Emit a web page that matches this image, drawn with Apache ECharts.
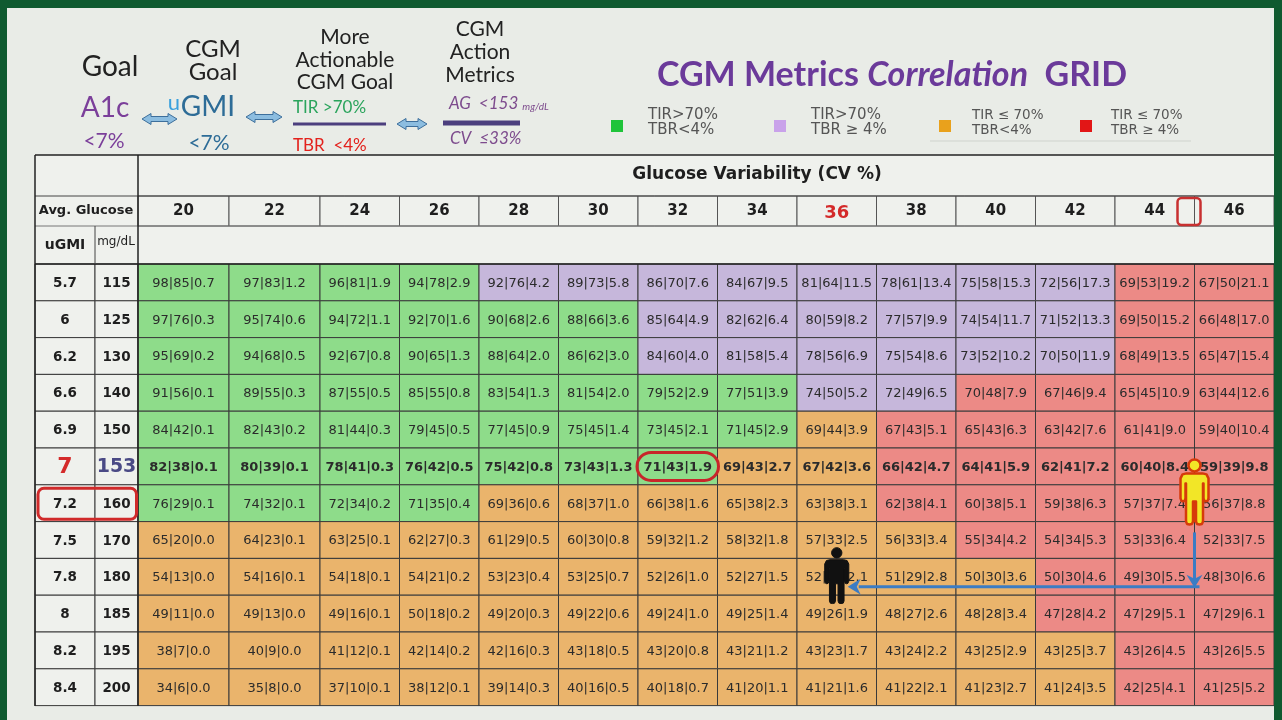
<!DOCTYPE html>
<html><head><meta charset="utf-8">
<script src="https://cdn.jsdelivr.net/npm/echarts@6/dist/echarts.min.js"></script>
<style>html,body{margin:0;padding:0;}#c{width:1282px;height:720px;}</style>
</head><body><div id="c"></div>
<script>
// ---------------- DATA ----------------
const cvValues = ['20','22','24','26','28','30','32','34','36','38','40','42','44','46'];
const ugmiLabels = ['5.7','6','6.2','6.6','6.9','7','7.2','7.5','7.8','8','8.2','8.4'];
const mgdlLabels = [115,125,130,140,150,153,160,170,180,185,195,200];
const tir = [
 [98,97,96,94,92,89,86,84,81,78,75,72,69,67],
 [97,95,94,92,90,88,85,82,80,77,74,71,69,66],
 [95,94,92,90,88,86,84,81,78,75,73,70,68,65],
 [91,89,87,85,83,81,79,77,74,72,70,67,65,63],
 [84,82,81,79,77,75,73,71,69,67,65,63,61,59],
 [82,80,78,76,75,73,71,69,67,66,64,62,60,59],
 [76,74,72,71,69,68,66,65,63,62,60,59,57,56],
 [65,64,63,62,61,60,59,58,57,56,55,54,53,52],
 [54,54,54,54,53,53,52,52,52,51,50,50,49,48],
 [49,49,49,50,49,49,49,49,49,48,48,47,47,47],
 [38,40,41,42,42,43,43,43,43,43,43,43,43,43],
 [34,35,37,38,39,40,40,41,41,41,41,41,42,41]
];
const titr = [
 [85,83,81,78,76,73,70,67,64,61,58,56,53,50],
 [76,74,72,70,68,66,64,62,59,57,54,52,50,48],
 [69,68,67,65,64,62,60,58,56,54,52,50,49,47],
 [56,55,55,55,54,54,52,51,50,49,48,46,45,44],
 [42,43,44,45,45,45,45,45,44,43,43,42,41,40],
 [38,39,41,42,42,43,43,43,42,42,41,41,40,39],
 [29,32,34,35,36,37,38,38,38,38,38,38,37,37],
 [20,23,25,27,29,30,32,32,33,33,34,34,33,33],
 [13,16,18,21,23,25,26,27,28,29,30,30,30,30],
 [11,13,16,18,20,22,24,25,26,27,28,28,29,29],
 [7,9,12,14,16,18,20,21,23,24,25,25,26,26],
 [6,8,10,12,14,16,18,20,21,22,23,24,25,25]
];
const tbr = [
 [0.7,1.2,1.9,2.9,4.2,5.8,7.6,9.5,11.5,13.4,15.3,17.3,19.2,21.1],
 [0.3,0.6,1.1,1.6,2.6,3.6,4.9,6.4,8.2,9.9,11.7,13.3,15.2,17.0],
 [0.2,0.5,0.8,1.3,2.0,3.0,4.0,5.4,6.9,8.6,10.2,11.9,13.5,15.4],
 [0.1,0.3,0.5,0.8,1.3,2.0,2.9,3.9,5.2,6.5,7.9,9.4,10.9,12.6],
 [0.1,0.2,0.3,0.5,0.9,1.4,2.1,2.9,3.9,5.1,6.3,7.6,9.0,10.4],
 [0.1,0.1,0.3,0.5,0.8,1.3,1.9,2.7,3.6,4.7,5.9,7.2,8.4,9.8],
 [0.1,0.1,0.2,0.4,0.6,1.0,1.6,2.3,3.1,4.1,5.1,6.3,7.4,8.8],
 [0.0,0.1,0.1,0.3,0.5,0.8,1.2,1.8,2.5,3.4,4.2,5.3,6.4,7.5],
 [0.0,0.1,0.1,0.2,0.4,0.7,1.0,1.5,2.1,2.8,3.6,4.6,5.5,6.6],
 [0.0,0.0,0.1,0.2,0.3,0.6,1.0,1.4,1.9,2.6,3.4,4.2,5.1,6.1],
 [0.0,0.0,0.1,0.2,0.3,0.5,0.8,1.2,1.7,2.2,2.9,3.7,4.5,5.5],
 [0.0,0.0,0.1,0.1,0.3,0.5,0.7,1.1,1.6,2.1,2.7,3.5,4.1,5.2]
];
// G: TIR>70 & TBR<4, P: TIR>70 & TBR>=4, O: TIR<=70 & TBR<4, R: TIR<=70 & TBR>=4
const zones = [
 'GGGGPPPPPPPPRR',
 'GGGGGGPPPPPPRR',
 'GGGGGGPPPPPPRR',
 'GGGGGGGGPPRRRR',
 'GGGGGGGGORRRRR',
 'GGGGGGGOORRRRR',
 'GGGGOOOOORRRRR',
 'OOOOOOOOOORRRR',
 'OOOOOOOOOOORRR',
 'OOOOOOOOOOORRR',
 'OOOOOOOOOOOORR',
 'OOOOOOOOOOOORR'
];
const legendItems = [
 {zone:'G', line1:'TIR>70%', line2:'TBR<4%'},
 {zone:'P', line1:'TIR>70%', line2:'TBR \u2265 4%'},
 {zone:'O', line1:'TIR \u2264 70%', line2:'TBR<4%'},
 {zone:'R', line1:'TIR \u2264 70%', line2:'TBR \u2265 4%'}
];
const highlightRow = 5;       // 153 mg/dL (uGMI 7)
const highlightCV = '36';
// ---------------- STYLE ----------------
const FONT = '"DejaVu Sans", sans-serif';
const LATO = 'Lato, "Open Sans", sans-serif';
const zoneColor = {G:'#8edc8a', P:'#c6b7db', O:'#eab46c', R:'#ec8a86'};
const legendColor = {G:'#1fc43a', P:'#c9a2ea', O:'#e9a11c', R:'#e21616'};
const HEAD_BG = '#eff1ed';

const chart = echarts.init(document.getElementById('c'));
const SPLIT = 2;
const colsA = cvValues.slice(0, SPLIT), colsB = cvValues.slice(SPLIT);
const rowCats = mgdlLabels.map(String);

function cellText(r, c) { return tir[r][c] + '|' + titr[r][c] + '|' + tbr[r][c].toFixed(1); }

function dataSeries(gi, cols, offset) {
  const meta = [], data = [];
  for (let r = 0; r < rowCats.length; r++) for (let k = 0; k < cols.length; k++) {
    meta.push({r: r, c: k + offset}); data.push([k, r]);
  }
  return {
    type:'custom', xAxisIndex:gi, yAxisIndex:gi, z:5, data:data, animation:false,
    renderItem: function (params, api) {
      const m = meta[params.dataIndex];
      const p = api.coord([api.value(0), api.value(1)]);
      const s = api.size([1, 1]);
      return {type:'group', children:[
        {type:'rect', shape:{x:p[0]-s[0]/2, y:p[1]-s[1]/2, width:s[0], height:s[1]},
          style:{fill:zoneColor[zones[m.r][m.c]], stroke:'#3a3a3a', lineWidth:1}},
        {type:'text', x:p[0], y:p[1]+1, style:{text:cellText(m.r, m.c), align:'center', verticalAlign:'middle',
          fill:'#2b2b2b', fontFamily:FONT, fontSize:13, fontWeight:m.r===highlightRow?'bold':'normal'}}
      ]};
    }
  };
}
function labelSeries(gi, labels, kind) {
  return {
    type:'custom', xAxisIndex:gi, yAxisIndex:gi, z:5, animation:false,
    data: labels.map((_, i) => [0, i]),
    renderItem: function (params, api) {
      const i = params.dataIndex;
      const p = api.coord([0, api.value(1)]);
      const s = api.size([1, 1]);
      let fill = '#1e1e1e', size = 13.5;
      if (i === highlightRow) { fill = kind === 'u' ? '#d42a2a' : '#4a4a85'; size = kind === 'u' ? 22 : 19; }
      return {type:'group', children:[
        {type:'rect', shape:{x:p[0]-s[0]/2, y:p[1]-s[1]/2, width:s[0], height:s[1]},
          style:{fill:HEAD_BG, stroke:'#3a3a3a', lineWidth:1}},
        {type:'text', x:p[0], y:p[1]+1, style:{text:String(labels[i]), align:'center', verticalAlign:'middle',
          fill:fill, fontFamily:FONT, fontSize:size, fontWeight:'bold'}}
      ]};
    }
  };
}
function headerSeries(gi, cols) {
  return {
    type:'custom', xAxisIndex:gi, yAxisIndex:gi, z:5, animation:false,
    data: cols.map((_, i) => [i, 0]),
    renderItem: function (params, api) {
      const i = params.dataIndex;
      const p = api.coord([api.value(0), 0]);
      const s = api.size([1, 1]);
      const hot = cols[i] === highlightCV;
      return {type:'group', children:[
        {type:'rect', shape:{x:p[0]-s[0]/2, y:p[1]-s[1]/2, width:s[0], height:s[1]},
          style:{fill:HEAD_BG, stroke:'#555', lineWidth:1}},
        {type:'text', x:p[0], y:p[1]+(hot?2:0), style:{text:cols[i], align:'center', verticalAlign:'middle',
          fill:hot?'#d42a2a':'#1e1e1e', fontFamily:FONT, fontSize:hot?18:15, fontWeight:'bold'}}
      ]};
    }
  };
}

const T = 264, H = 441.6;
chart.setOption({
  backgroundColor:'#e9ece7',
  animation:false,
  grid:[
    {left:35, top:T, width:60, height:H},
    {left:95, top:T, width:43, height:H},
    {left:138, top:T, width:182, height:H},
    {left:320, top:T, width:954, height:H},
    {left:138, top:196, width:182, height:30},
    {left:320, top:196, width:954, height:30}
  ],
  xAxis:[
    {gridIndex:0, type:'category', data:['uGMI'], show:false},
    {gridIndex:1, type:'category', data:['mg/dL'], show:false},
    {gridIndex:2, type:'category', data:colsA, show:false},
    {gridIndex:3, type:'category', data:colsB, show:false},
    {gridIndex:4, type:'category', data:colsA, show:false},
    {gridIndex:5, type:'category', data:colsB, show:false}
  ],
  yAxis:[
    {gridIndex:0, type:'category', data:rowCats, inverse:true, show:false},
    {gridIndex:1, type:'category', data:rowCats, inverse:true, show:false},
    {gridIndex:2, type:'category', data:rowCats, inverse:true, show:false},
    {gridIndex:3, type:'category', data:rowCats, inverse:true, show:false},
    {gridIndex:4, type:'category', data:['CV'], show:false},
    {gridIndex:5, type:'category', data:['CV'], show:false}
  ],
  series:[
    labelSeries(0, ugmiLabels, 'u'),
    labelSeries(1, mgdlLabels, 'm'),
    dataSeries(2, colsA, 0),
    dataSeries(3, colsB, SPLIT),
    headerSeries(4, colsA),
    headerSeries(5, colsB)
  ]
});

// ---------------- GRAPHIC (frame, headings, legend, annotations) ----------------
const px = (g, x, y) => chart.convertToPixel({gridIndex:g}, [x, y]);
const cw = px(3, 1, 0)[0] - px(3, 0, 0)[0];
const G = [];
function txt(x, y, text, font, fill, align, extra) {
  const st = Object.assign({text:text, font:font, fill:fill, align:align||'center', verticalAlign:'middle'}, extra||{});
  G.push({type:'text', x:x, y:y, z:20, style:st});
}
function line(x1, y1, x2, y2, stroke, w, z) {
  G.push({type:'line', z:z||10, shape:{x1:x1, y1:y1, x2:x2, y2:y2}, style:{stroke:stroke, lineWidth:w}});
}
function rect(x, y, w, h, fill, z) { G.push({type:'rect', z:z||1, shape:{x:x, y:y, width:w, height:h}, style:{fill:fill}}); }

// outer dark green frame
rect(0, 0, 1282, 8, '#0f5a30', 50); rect(0, 0, 7, 720, '#0f5a30', 50); rect(1274, 0, 8, 720, '#0f5a30', 50);

// header fills
rect(35, 155, 1239, 41, HEAD_BG); rect(35, 196, 103, 30, HEAD_BG); rect(35, 226, 1239, 38, HEAD_BG);
// table lines
line(35, 155, 1274, 155, '#222', 1.5);
line(35, 196, 1274, 196, '#444', 1);
line(35, 226, 1274, 226, '#777', 1);
line(35, 264, 1274, 264, '#222', 1.5);
line(35, 155, 35, 706, '#222', 1.5);
line(138, 155, 138, 706, '#222', 1.5);
line(95, 226, 95, 264, '#444', 1);
line(930, 141, 1191, 141, '#cfd3cd', 1);

// header texts of the table
txt(757, 175, 'Glucose Variability (CV %)', 'bold 17px ' + FONT, '#1e1e1e');
txt(86, 211, 'Avg. Glucose', 'bold 13px ' + FONT, '#1e1e1e');
txt(65, 245, 'uGMI', 'bold 14px ' + FONT, '#1e1e1e');
txt(116, 242, 'mg/dL', '12px ' + FONT, '#1e1e1e');

// top-left explanatory headings
txt(110, 67, 'Goal', '28px ' + LATO, '#222');
txt(213, 49, 'CGM', '24px ' + LATO, '#222');
txt(213, 72, 'Goal', '24px ' + LATO, '#222');
txt(345, 37, 'More', '21px ' + LATO, '#222');
txt(345, 60, 'Actionable', '21px ' + LATO, '#222');
txt(345, 82, 'CGM Goal', '21px ' + LATO, '#222');
txt(480, 29, 'CGM', '21px ' + LATO, '#222');
txt(480, 52, 'Action', '21px ' + LATO, '#222');
txt(480, 75, 'Metrics', '21px ' + LATO, '#222');
txt(105, 108, 'A1c', '28px ' + LATO, '#7b3f9a');
txt(104, 141, '<7%', '21px ' + LATO, '#7b3f9a');
txt(174, 103, 'u', '22px ' + LATO, '#3aa0dd');
txt(208, 107, 'GMI', '28px ' + LATO, '#2d6c97');
txt(209, 143, '<7%', '21px ' + LATO, '#2d6c97');
txt(293, 108, 'TIR >70%', '17px ' + LATO, '#2aa45c', 'left');
txt(293, 146, 'TBR  <4%', '17px ' + LATO, '#e3211c', 'left');
txt(449, 104, '{a|AG  <153 }{b|mg/dL}', '17px ' + LATO, '#7d4b8d', 'left',
  {rich:{a:{font:'italic 17px ' + LATO, fill:'#7d4b8d'}, b:{font:'italic 10px ' + LATO, fill:'#7d4b8d', padding:[5,0,0,0]}}});
txt(450, 139, 'CV  \u226433%', 'italic 17px ' + LATO, '#7d4b8d', 'left');
line(293, 124, 386, 124, '#4c3f7e', 3);
line(443, 123, 520, 123, '#4c3f7e', 5);
function dblArrow(x0, x1, cy) {
  G.push({type:'polygon', z:20, shape:{points:[[x0,cy],[x0+9,cy-5.5],[x0+9,cy-2.5],[x1-9,cy-2.5],[x1-9,cy-5.5],[x1,cy],[x1-9,cy+5.5],[x1-9,cy+2.5],[x0+9,cy+2.5],[x0+9,cy+5.5]]},
    style:{fill:'#8cbde0', stroke:'#3d6f9c', lineWidth:1}});
}
dblArrow(142, 177, 119); dblArrow(246, 282, 117); dblArrow(397, 427, 124);

// title
G.push({type:'text', x:892, y:75, z:20, style:{text:'{a|CGM Metrics }{b|Correlation}{a|  GRID}', align:'center', verticalAlign:'middle',
  font:'bold 34px ' + LATO, fill:'#6b3a9a',
  rich:{a:{font:'bold 34px ' + LATO, fill:'#6b3a9a'}, b:{font:'italic bold 34px ' + LATO, fill:'#6b3a9a'}}}});

// legend
const legX = [617, 780, 945, 1086], legTx = [648, 811, 972, 1111], legFs = [15, 15, 13.5, 13.5];
legendItems.forEach((it, i) => {
  G.push({type:'rect', z:20, shape:{x:legX[i]-6, y:120, width:12, height:12}, style:{fill:legendColor[it.zone]}});
  txt(legTx[i], 115, it.line1, legFs[i] + 'px ' + FONT, '#555', 'left');
  txt(legTx[i], 130, it.line2, legFs[i] + 'px ' + FONT, '#555', 'left');
});

// annotations positioned from the library's scales
const hiRow = highlightRow, rowPatient = mgdlLabels.indexOf(160), rowTarget = mgdlLabels.indexOf(180);
const c32 = cvValues.indexOf('32') - SPLIT, c36 = cvValues.indexOf('36') - SPLIT, c44 = cvValues.indexOf('44') - SPLIT;
const p32 = px(3, c32, hiRow);
G.push({type:'rect', z:60, shape:{x:p32[0]-cw/2-1, y:p32[1]-14, width:cw+2, height:28, r:14}, style:{fill:'none', stroke:'#c8262a', lineWidth:3}});
const pRowL = px(0, 0, rowPatient), pRowR = px(1, 0, rowPatient);
G.push({type:'rect', z:60, shape:{x:pRowL[0]-27, y:pRowL[1]-15, width:(pRowR[0]+20)-(pRowL[0]-27), height:31, r:6}, style:{fill:'none', stroke:'#d02a2a', lineWidth:3}});
const h44 = px(5, c44, 0);
const edge44 = h44[0] + cw/2;
G.push({type:'rect', z:60, shape:{x:edge44-17, y:h44[1]-13, width:23, height:27, r:4}, style:{fill:'none', stroke:'#c83030', lineWidth:2.5}});

const BODY = [[-8,15],[8,15],[12,16],[14,20],[14,40],[13,42.5],[11.5,43],[10,42.5],[9,40],[9,25],[8.5,25],[8.5,63],[7.5,65.5],[5,66],[2.5,65.5],[1.5,63],[1.5,43],[-1.5,43],[-1.5,63],[-2.5,65.5],[-5,66],[-7.5,65.5],[-8.5,63],[-8.5,25],[-9,25],[-9,40],[-10,42.5],[-11.5,43],[-13,42.5],[-14,40],[-14,20],[-12,16]];
function person(cx, top, s, fill, stroke, lw) {
  const pts = BODY.map(p => [cx + p[0]*s, top + p[1]*s]);
  G.push({type:'polygon', z:70, shape:{points:pts}, style:{fill:fill, stroke:stroke, lineWidth:lw, lineJoin:'round'}});
  G.push({type:'circle', z:71, shape:{cx:cx, cy:top + 7*s, r:6*s}, style:{fill:fill, stroke:stroke, lineWidth:lw}});
}
const yHi = px(3, 0, hiRow)[1];
const yTarget = px(3, 0, rowTarget)[1];
const xBlack = px(3, c36, rowTarget)[0];
const arrowY = yTarget + 10;
// blue arrows
line(edge44, yHi + 66, edge44, arrowY - 4, '#3b7cc4', 3, 65);
G.push({type:'polygon', z:65, shape:{points:[[edge44, arrowY+1],[edge44-8, arrowY-12],[edge44, arrowY-8],[edge44+8, arrowY-12]]}, style:{fill:'#3b7cc4'}});
line(edge44+5, arrowY, xBlack+22, arrowY, '#3b7cc4', 3, 65);
G.push({type:'polygon', z:65, shape:{points:[[xBlack+11, arrowY],[xBlack+24, arrowY-8],[xBlack+20, arrowY],[xBlack+24, arrowY+8]]}, style:{fill:'#3b7cc4'}});
person(edge44, yHi - 8, 1.0, '#f2e627', '#d63a0a', 2.5);
G.push({type:'line', z:72, shape:{x1:edge44, y1:yHi - 8 + 44, x2:edge44, y2:yHi - 8 + 64}, style:{stroke:'#d63a0a', lineWidth:2}});
person(xBlack, yTarget - 30, 0.86, '#111', '#111', 1);

chart.setOption({graphic:G});
</script></body></html>
